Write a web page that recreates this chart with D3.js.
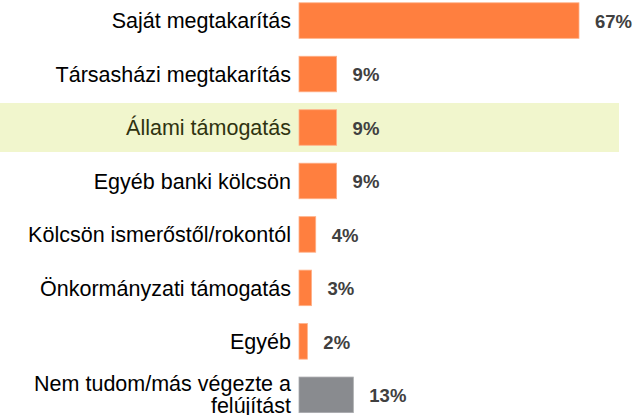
<!DOCTYPE html>
<html>
<head>
<meta charset="utf-8">
<script src="https://cdn.jsdelivr.net/npm/d3@7"></script>
<style>
  body { margin: 0; background: #fff; }
  svg { display: block; font-family: "Liberation Sans", Arial, sans-serif; }
</style>
</head>
<body>
<figure id="bar" style="margin:0"></figure>
<script>
const categories = [
  "Saját megtakarítás",
  "Társasházi megtakarítás",
  "Állami támogatás",
  "Egyéb banki kölcsön",
  "Kölcsön ismerőstől/rokontól",
  "Önkormányzati támogatás",
  "Egyéb",
  "Nem tudom/más végezte a felújítást"
];
const values = [67, 9, 9, 9, 4, 3, 2, 13];
const labelLines = [
  ["Saját megtakarítás"],
  ["Társasházi megtakarítás"],
  ["Állami támogatás"],
  ["Egyéb banki kölcsön"],
  ["Kölcsön ismerőstől/rokontól"],
  ["Önkormányzati támogatás"],
  ["Egyéb"],
  ["Nem tudom/más végezte a", "felújítást"]
];
const highlighted = "Állami támogatás";
const grayCategory = "Nem tudom/más végezte a felújítást";

const width = 635;
const height = 415;
const left = 299;

const data = categories.map((c, i) => ({ cat: c, value: values[i], lines: labelLines[i] }));

const svg = d3.select("figure#bar")
  .append("svg")
  .attr("width", width)
  .attr("height", height);

// band scale for rows
const y = d3.scaleBand()
  .domain(categories)
  .range([-6.3, 421.7])
  .paddingInner(0.335)
  .paddingOuter(0.17);

const x = d3.scaleLinear()
  .domain([0, 67])
  .range([left, 579]);

// highlight row background
svg.append("rect")
  .attr("x", 0)
  .attr("y", y(highlighted) + y.bandwidth() / 2 - 24.5)
  .attr("width", 619)
  .attr("height", 49)
  .attr("fill", "#f1f6cd");

// bars
svg.selectAll(".bar")
  .data(data)
  .enter()
  .append("rect")
  .attr("class", "bar")
  .attr("x", x(0))
  .attr("y", d => y(d.cat))
  .attr("width", d => x(d.value) - x(0))
  .attr("height", y.bandwidth())
  .attr("fill", d => d.cat === grayCategory ? "#898b8f" : "#ff7f3f")
  .attr("stroke", d => d.cat === grayCategory ? "#a8aaad" : "#ffb088")
  .attr("stroke-width", 0.8);

// category labels
const labels = svg.selectAll(".cat")
  .data(data)
  .enter()
  .append("text")
  .attr("class", "cat")
  .attr("text-anchor", "end")
  .attr("font-size", 21.5)
  .attr("fill", d => d.cat === highlighted ? "#2f3310" : "#000");

labels.each(function(d) {
  const t = d3.select(this);
  const cy = y(d.cat) + y.bandwidth() / 2;
  const n = d.lines.length;
  d.lines.forEach((line, i) => {
    t.append("tspan")
      .attr("x", 291)
      .attr("y", cy + 7.7 + (i - (n - 1) / 2) * 22.5 - (n - 1) * 0.6)
      .text(line);
  });
});

// value labels
svg.selectAll(".val")
  .data(data)
  .enter()
  .append("text")
  .attr("class", "val")
  .attr("x", d => x(d.value) + 16)
  .attr("y", d => y(d.cat) + y.bandwidth() / 2 + 7.3)
  .attr("font-size", 18.5)
  .attr("font-weight", "bold")
  .attr("fill", "#404040")
  .text(d => d.value + "%");
</script>
</body>
</html>
